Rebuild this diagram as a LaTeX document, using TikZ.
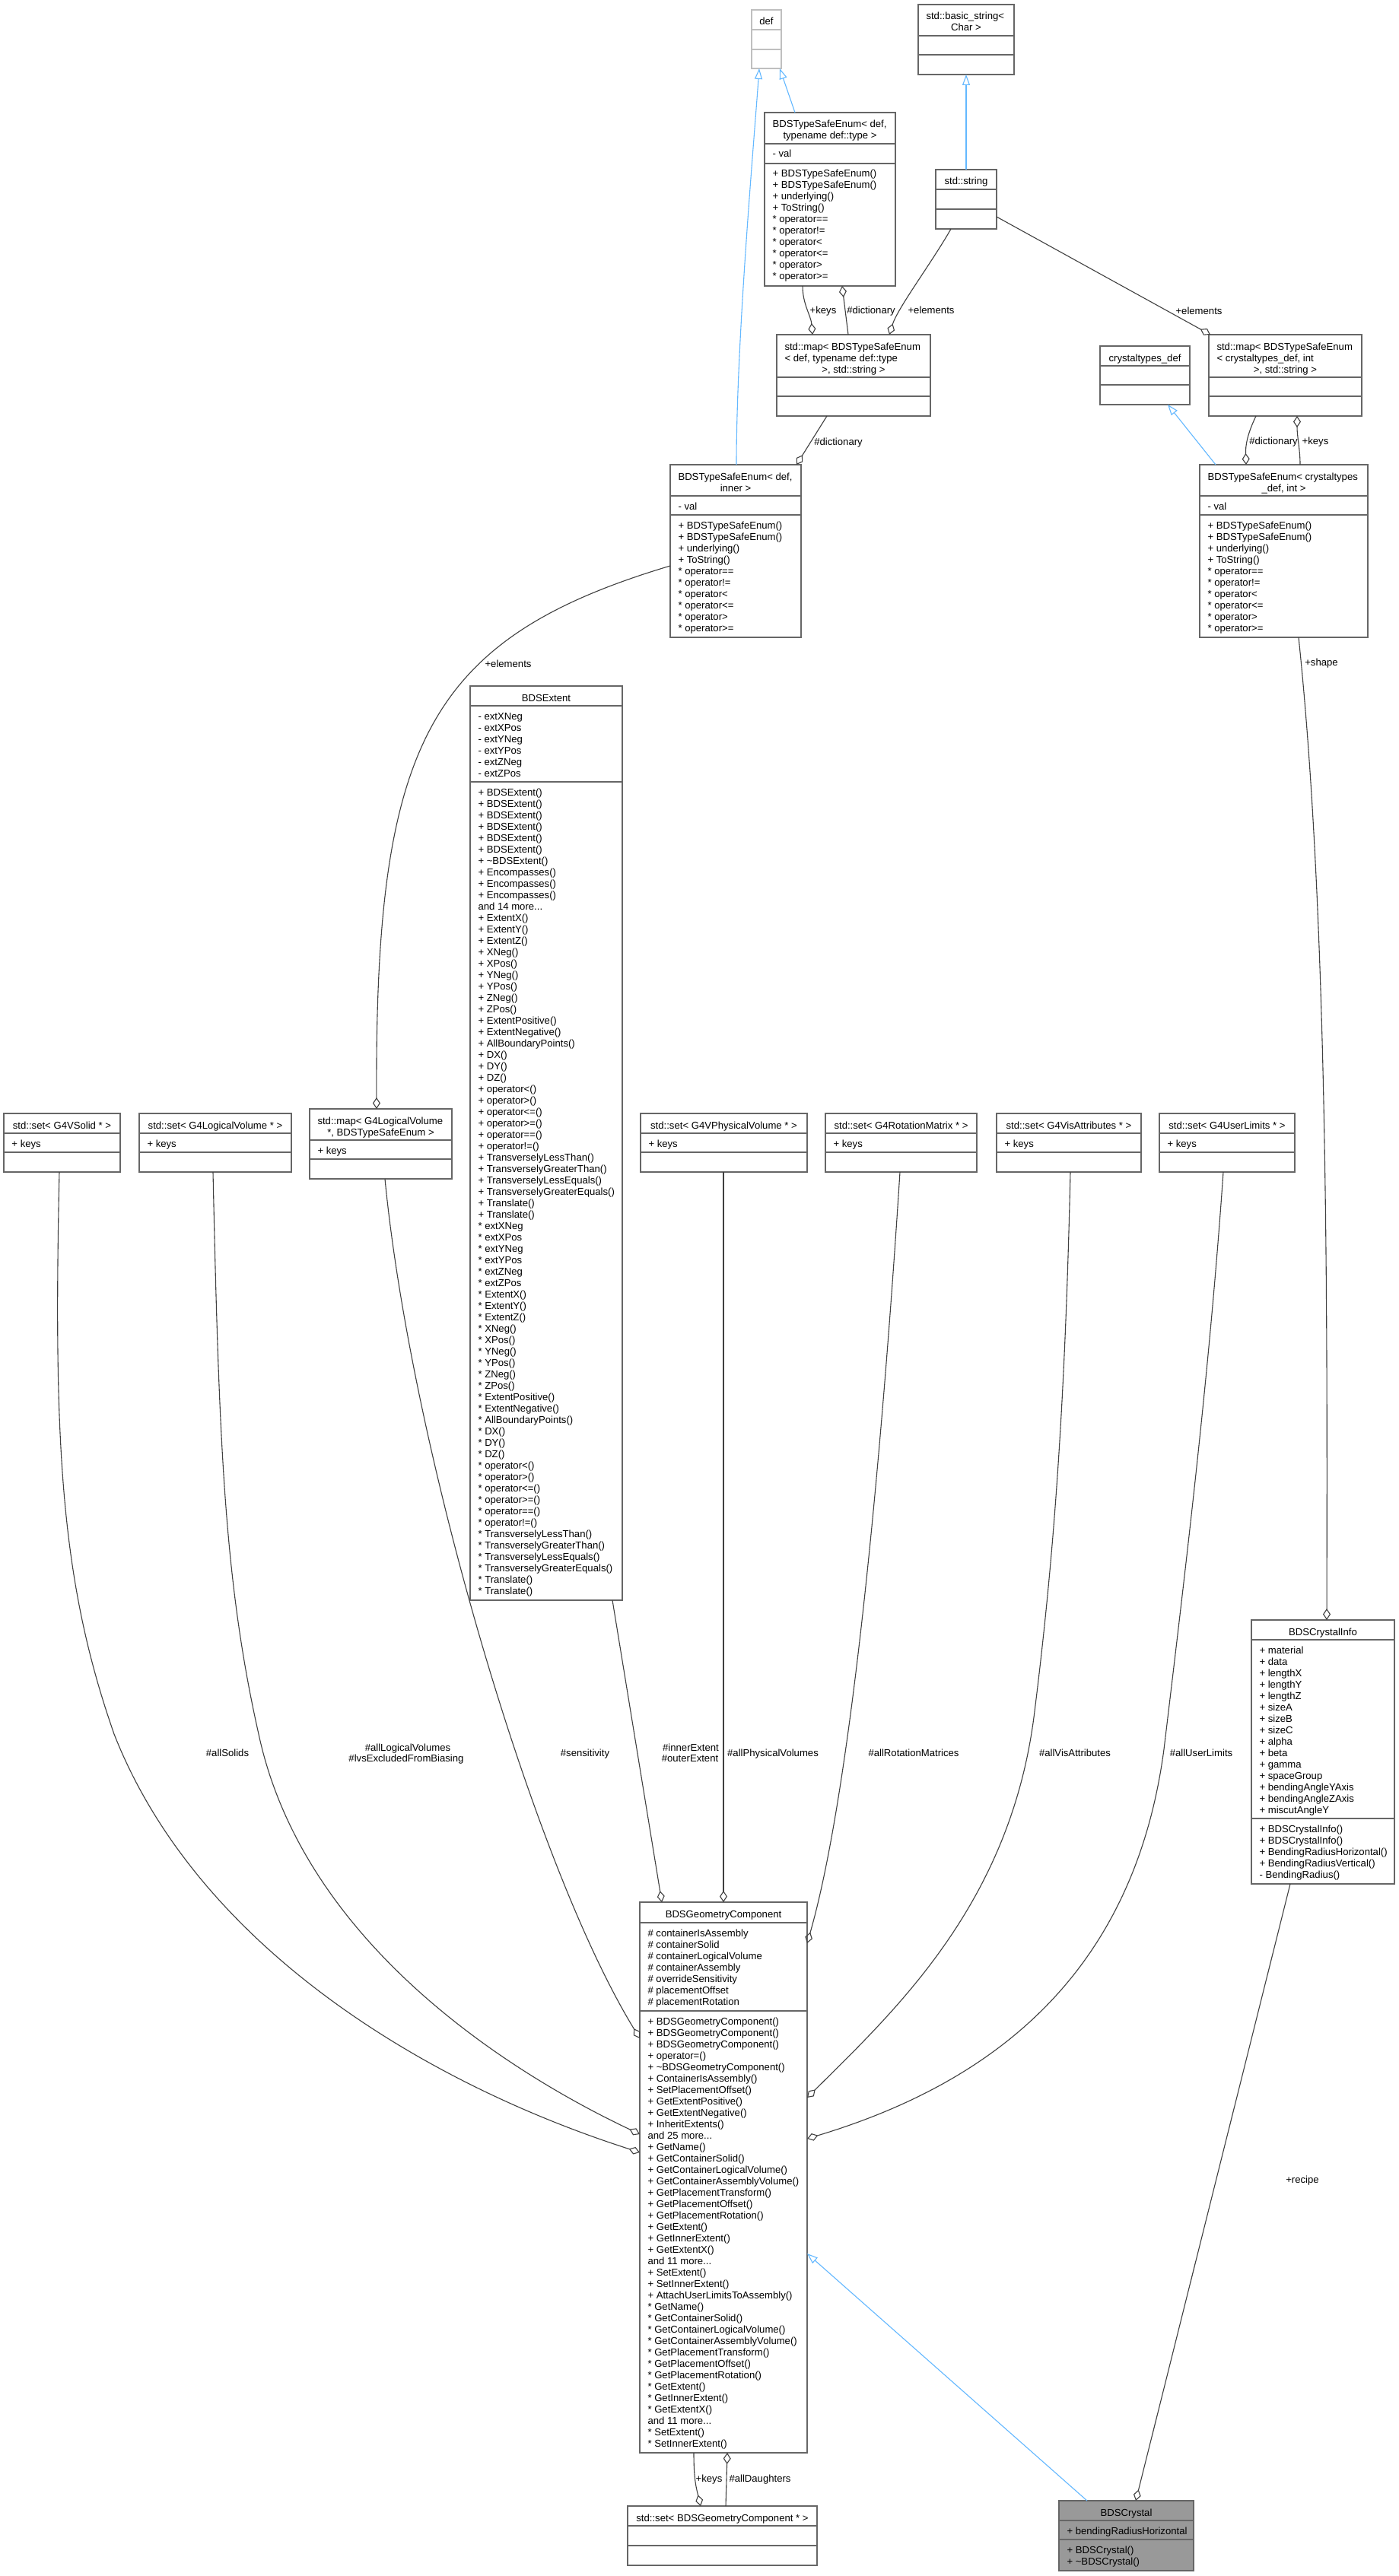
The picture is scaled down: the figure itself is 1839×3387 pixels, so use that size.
\documentclass[tikz,border=0pt]{standalone}
\usepackage{fontspec}
\setmainfont{Liberation Sans}
\usetikzlibrary{arrows.meta}
\definecolor{boxgray}{HTML}{666666}
\definecolor{edgegray}{HTML}{404040}
\definecolor{inhblue}{HTML}{63B8FF}
\definecolor{defgray}{HTML}{BFBFBF}
\definecolor{curfill}{HTML}{999999}
\newcommand\fs{\fontsize{6.565pt}{7.5pt}\selectfont}
\newcommand\mymore{...}
\tikzset{
  clsbox/.style={line width=0.7pt, inner sep=0pt, outer sep=0pt},
  divl/.style={line width=0.7pt},
  txt/.style={inner sep=0pt, outer sep=0pt, font=\fs, text=black},
  elbl/.style={inner sep=0pt, outer sep=0pt, font=\fs, text=black},
  uses/.style={draw=edgegray, line width=0.55pt, -{Diamond[open, length=7.5pt, width=5pt]}},
  inh/.style={draw=inhblue, line width=0.55pt, -{Triangle[open, length=7pt, width=5pt]}},
}
% id, x1, x2, top, d1, d2, bottom, border colour, fill colour
\newcommand\cls[9]{%
  \node[clsbox, draw=#8, fill=#9, minimum width={(#3-#2)*0.5pt}, minimum height={(#7-#4)*0.5pt}] (#1) at ({(#2+#3)/2},{(#4+#7)/2}) {};
  \draw[divl, draw=#8] (#2,#5) -- (#3,#5) (#2,#6) -- (#3,#6);
}
\newcommand\tleft[4]{\node[txt, anchor=base west] (#1) at (#2,#3) {#4};}
\newcommand\tcent[4]{\node[txt, anchor=base] (#1) at (#2,#3) {#4};}
\newcommand\mlist[4]{\foreach \mlx [count=\mli from 0] in {#4}{\node[txt, anchor=base west] (#1\mli) at (#2,{#3+15*\mli}) {\mlx};}}
\newcommand\elab[4]{\node[elbl, anchor=base] (#1) at (#2,{#3+5}) {#4};}

\begin{document}
\begin{tikzpicture}[x=0.5pt, y=-0.5pt]
\fill[white] (0,0) rectangle (1839,3387);
\useasboundingbox (0,0) rectangle (1839,3387);

% ---------- classes ----------
\cls{cdef}{988}{1027}{13}{39}{65}{90}{defgray}{white}
\tcent{cdef-t}{1007.5}{33}{def}

\cls{cbs}{1207}{1333}{6}{47}{72}{98}{boxgray}{white}
\tleft{cbs-t1}{1217.5}{26}{std::basic\_string<}
\tcent{cbs-t2}{1270}{41}{Char >}

\cls{tse1}{1005}{1177}{148}{189}{215}{376}{boxgray}{white}
\tleft{tse1-t1}{1015.5}{168}{BDSTypeSafeEnum< def,}
\tcent{tse1-t2}{1091}{183}{typename def::type >}
\mlist{tse1-a}{1015.5}{207}{- val}
\mlist{tse1-m}{1015.5}{233}{+ BDSTypeSafeEnum(), + BDSTypeSafeEnum(), + underlying(), + ToString(), * operator==, * operator!=, * operator<, * operator<=, * operator>, * operator>=}

\cls{cstr}{1230}{1310}{223}{249}{275}{301}{boxgray}{white}
\tcent{cstr-t}{1270}{243}{std::string}

\cls{map1}{1021}{1223}{440}{496}{521}{547}{boxgray}{white}
\tleft{map1-t1}{1031.5}{460}{std::map< BDSTypeSafeEnum}
\tleft{map1-t2}{1031.5}{475}{< def, typename def::type}
\tcent{map1-t3}{1122}{490}{>, std::string >}

\cls{cct}{1446}{1564}{455}{481}{506}{532}{boxgray}{white}
\tcent{cct-t}{1505}{475}{crystaltypes\_def}

\cls{map2}{1589}{1790}{440}{496}{521}{547}{boxgray}{white}
\tleft{map2-t1}{1599.5}{460}{std::map< BDSTypeSafeEnum}
\tleft{map2-t2}{1599.5}{475}{< crystaltypes\_def, int}
\tcent{map2-t3}{1689.5}{490}{>, std::string >}

\cls{tse2}{1577}{1798}{611}{652}{677}{838}{boxgray}{white}
\tleft{tse2-t1}{1587.5}{631}{BDSTypeSafeEnum< crystaltypes}
\tcent{tse2-t2}{1687.5}{646}{\_def, int >}
\mlist{tse2-a}{1587.5}{670}{- val}
\mlist{tse2-m}{1587.5}{695}{+ BDSTypeSafeEnum(), + BDSTypeSafeEnum(), + underlying(), + ToString(), * operator==, * operator!=, * operator<, * operator<=, * operator>, * operator>=}

\cls{tse3}{881}{1053}{611}{652}{677}{838}{boxgray}{white}
\tleft{tse3-t1}{891.5}{631}{BDSTypeSafeEnum< def,}
\tcent{tse3-t2}{967}{646}{inner >}
\mlist{tse3-a}{891.5}{670}{- val}
\mlist{tse3-m}{891.5}{695}{+ BDSTypeSafeEnum(), + BDSTypeSafeEnum(), + underlying(), + ToString(), * operator==, * operator!=, * operator<, * operator<=, * operator>, * operator>=}

\cls{cext}{618}{818}{902}{928}{1028}{2104}{boxgray}{white}
\tcent{cext-t}{718}{922}{BDSExtent}
\mlist{cext-a}{628.5}{946}{- extXNeg, - extXPos, - extYNeg, - extYPos, - extZNeg, - extZPos}
\mlist{cext-m}{628.5}{1046}{+ BDSExtent(), + BDSExtent(), + BDSExtent(), + BDSExtent(), + BDSExtent(), + BDSExtent(), + \textasciitilde BDSExtent(), + Encompasses(), + Encompasses(), + Encompasses(), and 14 more\mymore, + ExtentX(), + ExtentY(), + ExtentZ(), + XNeg(), + XPos(), + YNeg(), + YPos(), + ZNeg(), + ZPos(), + ExtentPositive(), + ExtentNegative(), + AllBoundaryPoints(), + DX(), + DY(), + DZ(), + operator<(), + operator>(), + operator<=(), + operator>=(), + operator==(), + operator!=(), + TransverselyLessThan(), + TransverselyGreaterThan(), + TransverselyLessEquals(), + TransverselyGreaterEquals(), + Translate(), + Translate(), * extXNeg, * extXPos, * extYNeg, * extYPos, * extZNeg, * extZPos, * ExtentX(), * ExtentY(), * ExtentZ(), * XNeg(), * XPos(), * YNeg(), * YPos(), * ZNeg(), * ZPos(), * ExtentPositive(), * ExtentNegative(), * AllBoundaryPoints(), * DX(), * DY(), * DZ(), * operator<(), * operator>(), * operator<=(), * operator>=(), * operator==(), * operator!=(), * TransverselyLessThan(), * TransverselyGreaterThan(), * TransverselyLessEquals(), * TransverselyGreaterEquals(), * Translate(), * Translate()}

\cls{s1}{5}{158}{1464}{1490}{1515}{1541}{boxgray}{white}
\tcent{s1-t}{81.5}{1484}{std::set< G4VSolid * >}
\mlist{s1-a}{15.5}{1508}{+ keys}

\cls{s2}{183}{383}{1464}{1490}{1515}{1541}{boxgray}{white}
\tcent{s2-t}{283}{1484}{std::set< G4LogicalVolume * >}
\mlist{s2-a}{193.5}{1508}{+ keys}

\cls{s3}{407}{594}{1458}{1499}{1524}{1550}{boxgray}{white}
\tleft{s3-t1}{417.5}{1478}{std::map< G4LogicalVolume}
\tcent{s3-t2}{500.5}{1493}{*, BDSTypeSafeEnum >}
\mlist{s3-a}{417.5}{1517}{+ keys}

\cls{s4}{842}{1061}{1464}{1490}{1515}{1541}{boxgray}{white}
\tcent{s4-t}{951.5}{1484}{std::set< G4VPhysicalVolume * >}
\mlist{s4-a}{852.5}{1508}{+ keys}

\cls{s5}{1085}{1284}{1464}{1490}{1515}{1541}{boxgray}{white}
\tcent{s5-t}{1184.5}{1484}{std::set< G4RotationMatrix * >}
\mlist{s5-a}{1095.5}{1508}{+ keys}

\cls{s6}{1310}{1500}{1464}{1490}{1515}{1541}{boxgray}{white}
\tcent{s6-t}{1405}{1484}{std::set< G4VisAttributes * >}
\mlist{s6-a}{1320.5}{1508}{+ keys}

\cls{s7}{1524}{1702}{1464}{1490}{1515}{1541}{boxgray}{white}
\tcent{s7-t}{1613}{1484}{std::set< G4UserLimits * >}
\mlist{s7-a}{1534.5}{1508}{+ keys}

\cls{ci}{1645}{1833}{2130}{2156}{2391}{2477}{boxgray}{white}
\tcent{ci-t}{1739}{2150}{BDSCrystalInfo}
\mlist{ci-a}{1655.5}{2174}{+ material, + data, + lengthX, + lengthY, + lengthZ, + sizeA, + sizeB, + sizeC, + alpha, + beta, + gamma, + spaceGroup, + bendingAngleYAxis, + bendingAngleZAxis, + miscutAngleY}
\mlist{ci-m}{1655.5}{2409}{+ BDSCrystalInfo(), + BDSCrystalInfo(), + BendingRadiusHorizontal(), + BendingRadiusVertical(), - BendingRadius()}

\cls{gc}{841}{1061}{2501}{2528}{2644}{3225}{boxgray}{white}
\tcent{gc-t}{951}{2521}{BDSGeometryComponent}
\mlist{gc-a}{851.5}{2546}{\# containerIsAssembly, \# containerSolid, \# containerLogicalVolume, \# containerAssembly, \# overrideSensitivity, \# placementOffset, \# placementRotation}
\mlist{gc-m}{851.5}{2662}{+ BDSGeometryComponent(), + BDSGeometryComponent(), + BDSGeometryComponent(), + operator=(), + \textasciitilde BDSGeometryComponent(), + ContainerIsAssembly(), + SetPlacementOffset(), + GetExtentPositive(), + GetExtentNegative(), + InheritExtents(), and 25 more\mymore, + GetName(), + GetContainerSolid(), + GetContainerLogicalVolume(), + GetContainerAssemblyVolume(), + GetPlacementTransform(), + GetPlacementOffset(), + GetPlacementRotation(), + GetExtent(), + GetInnerExtent(), + GetExtentX(), and 11 more\mymore, + SetExtent(), + SetInnerExtent(), + AttachUserLimitsToAssembly(), * GetName(), * GetContainerSolid(), * GetContainerLogicalVolume(), * GetContainerAssemblyVolume(), * GetPlacementTransform(), * GetPlacementOffset(), * GetPlacementRotation(), * GetExtent(), * GetInnerExtent(), * GetExtentX(), and 11 more\mymore, * SetExtent(), * SetInnerExtent()}

\cls{sg}{825}{1074}{3295}{3321}{3347}{3373}{boxgray}{white}
\tcent{sg-t}{949.5}{3315}{std::set< BDSGeometryComponent * >}

\cls{cr}{1392}{1569}{3288}{3314}{3339}{3380}{boxgray}{curfill}
\tcent{cr-t}{1480.5}{3308}{BDSCrystal}
\mlist{cr-a}{1402.5}{3332}{+ bendingRadiusHorizontal}
\mlist{cr-m}{1402.5}{3357}{+ BDSCrystal(), + \textasciitilde BDSCrystal()}

% ---------- inheritance ----------
\draw[inh] (1045,0 |- tse1.north) -- (1025,0 |- cdef.south);
\draw[inh] (968,0 |- tse3.north) .. controls (968,450) and (990,200) .. (998,0 |- cdef.south);
\draw[inh] (1270,0 |- cstr.north) -- (1270,0 |- cbs.south);
\draw[inh] (1598,0 |- tse2.north) -- (1535,0 |- cct.south);
\draw[inh] (1429,0 |- cr.north) -- (gc.east |- 0,2963);

% ---------- usage ----------
\draw[uses] (1055,0 |- tse1.south) .. controls (1055,400) and (1066,415) .. (1068,0 |- map1.north);
\draw[uses] (1115,0 |- map1.north) -- (1107,0 |- tse1.south);
\draw[uses] (1250,0 |- cstr.south) .. controls (1225,345) and (1180,405) .. (1169,0 |- map1.north);
\draw[uses] (1087,0 |- map1.south) -- (1047,0 |- tse3.north);
\draw[uses] (cstr.east |- 0,285) -- (1591,0 |- map2.north);
\draw[uses] (1709,0 |- tse2.north) .. controls (1709,590) and (1705,575) .. (1705,0 |- map2.south);
\draw[uses] (1651,0 |- map2.south) .. controls (1640,570) and (1637,585) .. (1638,0 |- tse2.north);
\draw[uses] (tse3.west |- 0,744) .. controls (560,840) and (493,980) .. (495,0 |- s3.north);
\draw[uses] (1707,0 |- tse2.south) .. controls (1745,1200) and (1745,1700) .. (1744,0 |- ci.north);
\draw[uses] (805,0 |- cext.south) -- (870,0 |- gc.north);
\draw[uses] (951,0 |- s4.south) -- (951,0 |- gc.north);
\draw[uses] (78,0 |- s1.south) .. controls (70,1900) and (80,2080) .. (150,2280) .. controls (260,2560) and (560,2740) .. (gc.west |- 0,2830);
\draw[uses] (280,0 |- s2.south) .. controls (288,1900) and (295,2080) .. (340,2280) .. controls (400,2560) and (680,2730) .. (gc.west |- 0,2806);
\draw[uses] (506,0 |- s3.south) .. controls (540,1900) and (700,2450) .. (gc.west |- 0,2680);
\draw[uses] (1183,0 |- s5.south) .. controls (1160,1900) and (1120,2350) .. (gc.east |- 0,2555);
\draw[uses] (1407,0 |- s6.south) .. controls (1400,1850) and (1385,2050) .. (1360,2250) .. controls (1330,2500) and (1180,2640) .. (gc.east |- 0,2758);
\draw[uses] (1608,0 |- s7.south) .. controls (1590,1800) and (1560,2050) .. (1530,2300) .. controls (1490,2600) and (1300,2740) .. (gc.east |- 0,2812);
\draw[uses] (1696,0 |- ci.south) -- (1493,0 |- cr.north);
\draw[uses] (912,0 |- gc.south) .. controls (912,3260) and (915,3270) .. (921,0 |- sg.north);
\draw[uses] (954,0 |- sg.north) -- (956,0 |- gc.south);

% ---------- edge labels ----------
\elab{l1}{1082}{408}{+keys}
\elab{l2}{1145}{408}{\#dictionary}
\elab{l3}{1224}{408}{+elements}
\elab{l4}{1102}{580}{\#dictionary}
\elab{l5}{1576}{409}{+elements}
\elab{l6}{1674}{579}{\#dictionary}
\elab{l7}{1729}{579}{+keys}
\elab{l8}{668}{872}{+elements}
\elab{l9}{1737}{870}{+shape}
\elab{l10}{299}{2304}{\#allSolids}
\elab{l11}{536}{2297}{\#allLogicalVolumes}
\elab{l12}{534}{2311}{\#lvsExcludedFromBiasing}
\elab{l13}{769}{2304}{\#sensitivity}
\elab{l14}{908}{2297}{\#innerExtent}
\elab{l15}{907}{2311}{\#outerExtent}
\elab{l16}{1016}{2304}{\#allPhysicalVolumes}
\elab{l17}{1201}{2304}{\#allRotationMatrices}
\elab{l18}{1413}{2304}{\#allVisAttributes}
\elab{l19}{1579}{2304}{\#allUserLimits}
\elab{l20}{1712}{2865}{+recipe}
\elab{l21}{932}{3258}{+keys}
\elab{l22}{999}{3258}{\#allDaughters}
\end{tikzpicture}
\end{document}
